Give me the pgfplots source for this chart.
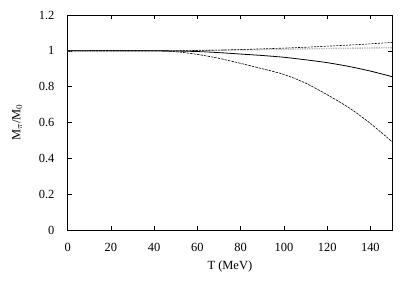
\documentclass[border=0pt]{standalone}
\usepackage{pgfplots}
\pgfplotsset{compat=1.18}
\usepackage{fontspec}
\setmainfont{Liberation Serif}
\begin{document}
\fontsize{12.5}{14}\selectfont
\begin{tikzpicture}
\begin{axis}[
  at={(0,0)}, anchor=south west,
  scale only axis, width=324.3bp, height=215bp,
  xmin=0, xmax=150, ymin=0, ymax=1.2,
  xtick={0,20,...,140}, ytick={0,0.2,...,1.2},
  tick align=inside, major tick length=4bp,
  tick style={black, line width=0.6pt},
  axis line style={line width=0.8pt},
  /pgf/number format/assume math mode=true,
  ticklabel style={font=\fontsize{12.5}{14}\selectfont},
  label style={font=\fontsize{12.5}{14}\selectfont},
  xticklabel style={anchor=center, yshift=-17.5bp},
  yticklabel style={anchor=east, xshift=-9bp},
  xlabel={T (MeV)}, ylabel={M$_\pi$/M$_0$},
  every axis x label/.style={at={(axis description cs:0.5,0)}, anchor=center, yshift=-37bp},
  every axis y label/.style={at={(axis description cs:-0.156,0.5)}, anchor=center, rotate=90},
  clip=true,
]
\addplot[gray!55, line width=1.4pt, densely dotted] coordinates {(0,1) (50,1.0) (60,1.002) (80,1.005) (100,1.009) (120,1.013) (140,1.016) (150,1.018)};
\addplot[black, line width=0.6pt, dash pattern=on 2bp off 1.2bp] coordinates {(0,1) (50,1.0) (60,1.002) (70,1.004) (80,1.007) (90,1.011) (100,1.015) (110,1.020) (120,1.026) (130,1.032) (140,1.039) (150,1.047)};
\addplot[black, line width=0.8pt, smooth] coordinates {(0,1) (40,1.0) (50,0.999) (60,0.996) (70,0.990) (80,0.982) (90,0.974) (100,0.964) (110,0.950) (120,0.934) (130,0.913) (140,0.887) (150,0.856)};
\addplot[black, line width=0.6pt, dash pattern=on 2.5bp off 1bp, smooth] coordinates {(0,1) (40,1.0) (50,0.995) (60,0.980) (70,0.958) (80,0.930) (90,0.900) (100,0.868) (110,0.820) (120,0.755) (130,0.683) (140,0.595) (150,0.493)};
\end{axis}
\path (-67.7bp,-58bp) rectangle (342.3bp,230bp);
\end{tikzpicture}
\end{document}
